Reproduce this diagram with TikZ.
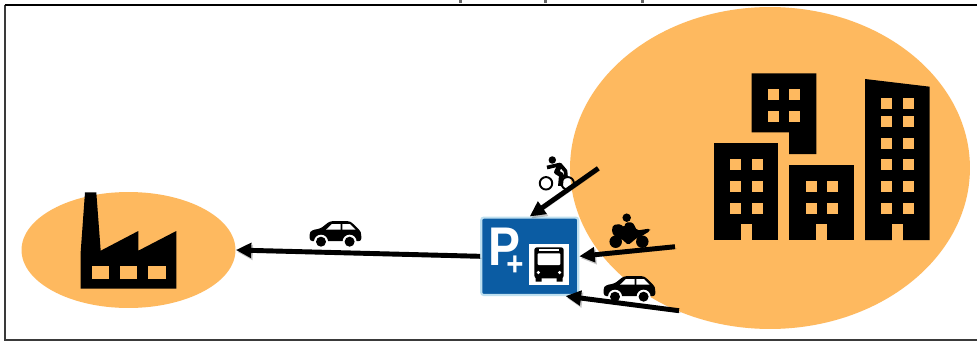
\documentclass[tikz,border=0pt]{standalone}
\usepackage{fontspec}
\setmainfont{Liberation Sans}
\usetikzlibrary{arrows.meta,shapes.geometric}
\definecolor{zone}{HTML}{FEB95F}
\definecolor{signblue}{HTML}{0B5CA3}
\definecolor{signedge}{HTML}{BFE0F0}
\definecolor{framegray}{HTML}{3A3A3A}

\begin{document}
\begin{tikzpicture}[
  x=0.02cm,y=-0.02cm,
  zonenode/.style={ellipse, fill=zone, inner sep=0pt},
  signnode/.style={rectangle, rounded corners=1.5pt, draw=signedge, fill=signblue, line width=1.2pt, inner sep=0pt, minimum width=1.94cm, minimum height=1.55cm},
  flowarr/.style={-{Triangle[length=0.31cm,width=0.29cm]}, line width=2.8pt, color=black,
    preaction={draw=black, opacity=0.22, transform canvas={shift={(0.03cm,-0.04cm)}}}},
  pics/caricon/.style={code={
    \fill[black,rounded corners=1.5pt] (0.7,19.5)--(0,12)--(2.3,8.5)--(11.3,6.8)--(20.5,-0.5)--(41,-0.5)--(50.5,8.5)--(52,12)--(52,19.5)--cycle;
    \fill[white] (16.7,8)--(22.7,2.3)--(31.3,2.3)--(31.3,8)--cycle (33,2.3)--(40.7,2.3)--(46.3,8)--(33,8)--cycle;
    \foreach \w in {11.7,40.3} {\fill[white] (\w,20) circle (0.14cm); \fill[black] (\w,20) circle (0.1cm);}
  }},
]

\useasboundingbox (0,0) rectangle (977,341);
\fill[white] (0,0) rectangle (977,341);
% cut off title
\foreach \x in {460,545,642} \fill[black!60] (\x-1.5,0) rectangle (\x+1.5,3);
\draw[framegray,line width=0.9pt] (5,5)--(5,340)--(977,340);
\draw[black,line width=1.1pt] (4.5,5)--(977,5);
% zones
\node[zonenode,minimum width=4.28cm,minimum height=2.32cm] (factory) at (128.5,250) {};
\node[zonenode,minimum width=8cm,minimum height=6.44cm] (city) at (770,168) {};
% factory
\fill[black] (80.7,288.7)--(80.7,251.7)--(85,192.3)--(96.3,192.3)--(100.7,250.7)--(138.3,231)--(138.3,250.7)--(176.3,231)--(176.3,288.7)--cycle;
\foreach \x in {91.7,120,148.3} \fill[zone] (\x,266) rectangle ++(17.3,13);
% buildings
\fill[black] (751.7,73.3)--(816.3,73.3)--(816.3,154)--(789,154)--(789,132.3)--(751.7,132.3)--cycle;
\fill[black] (713.7,143.3) rectangle (778.3,240);
\fill[black] (789.3,165) rectangle (854,240);
\fill[black] (865,79)--(929.7,86.7)--(929.7,240)--(865,240)--cycle;
\foreach \x in {740.7,816.3,892} \fill[zone] (\x,224) rectangle ++(10.8,16.5);
\foreach \x/\y in {767.7/89.3,789.3/89.3,767.7/111,789.3/111,
  730/159.3,751.7/159.3,730/181,751.7/181,730/202.7,751.7/202.7,
  805.7/181,827/181,805.7/202.7,827/202.7}
 \fill[zone] (\x,\y) rectangle ++(11,11);
\foreach \y in {97.7,116.3,138,159.3,181,202.7}
 {\fill[zone] (881.3,\y) rectangle ++(11,11); \fill[zone] (902.7,\y) rectangle ++(11,11);}
% park and ride sign
\node[signnode] (sign) at (529.7,256.3) {};
\node[inner sep=0pt,anchor=base west,text=white,font=\fontsize{31}{31}\selectfont\bfseries,xscale=0.88] (pletter) at (488.5,265) {P\kern-9.4pt\raisebox{-6pt}{\fontsize{19}{19}\selectfont +}};
\node[fill=white,inner sep=0pt,minimum size=0.806cm] (buspanel) at (549.2,264.5) {};
% bus
\fill[black,rounded corners=1.5pt] (534.3,247.3) rectangle (563.7,278.3);
\fill[black] (535.5,277) rectangle (541.5,281.5) (556.5,277) rectangle (562.5,281.5);
\fill[white,rounded corners=0.5pt] (537.7,253.3) rectangle (560.3,265);
\fill[white] (539,249.3) rectangle (559,250.8);
\fill[white] (538.3,272.5) circle (0.035cm) (559.7,272.5) circle (0.035cm);
% bike
\fill[black] (552.3,160) circle (0.075cm);
\draw[black,line width=2.1pt,line join=round] (547,167.5)--(560,164.5)--(565.5,171)--(566,177);
\draw[black,line width=2.8pt,line join=round] (560,165)--(556.5,172)--(561.5,175)--(560.5,186);
\draw[black,line width=1.1pt] (546,183.3) circle (0.125cm) (567.7,183.3) circle (0.125cm);
% quad
\fill[black] (626.7,217.7) circle (0.085cm);
\fill[black,rounded corners=1pt] (611.7,232)--(613,225)--(620.7,224)--(624,227.7)--(625.7,222.3)--(632.7,222.3)--(637,230.5)--(650,228.5)--(650,231)--(641.7,236)--(636.7,238)--(628.3,245)--(621.7,239)--(615,236.7)--cycle;
\fill[black] (615.7,241.7) circle (0.125cm) (642.3,241.7) circle (0.125cm);
% cars
\pic at (309.3,221.7) {caricon};
\pic at (603.3,276.7) {caricon};
% flows
\coordinate (bikestart) at (598.3,168.3);
\coordinate (quadstart) at (675,246.7);
\coordinate (carstart) at (679,310.7);
\draw[flowarr] (bikestart)--(sign.north);
\draw[flowarr] (quadstart)--(sign.east);
\draw[flowarr] (carstart)--(sign.-48);
\draw[flowarr] (sign.west)--(factory.east);

\end{tikzpicture}
\end{document}
